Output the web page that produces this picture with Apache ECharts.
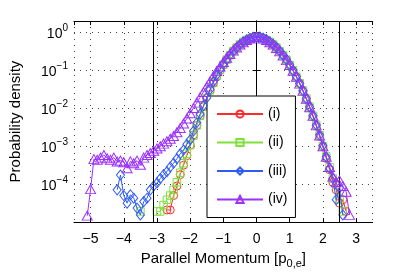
<!DOCTYPE html>
<html><head><meta charset="utf-8">
<script src="https://cdn.jsdelivr.net/npm/echarts@6/dist/echarts.min.js"></script>
<style>html,body{margin:0;padding:0;background:#fff}#c{width:415px;height:274px}</style>
</head><body><div id="c"></div>
<script>
const seriesNames = ['(i)', '(ii)', '(iii)', '(iv)'];
const xs = [-5.1,-5.0,-4.9,-4.8,-4.7,-4.6,-4.5,-4.4,-4.3,-4.2,-4.1,-4.0,-3.9,-3.8,-3.7,-3.6,-3.5,-3.4,-3.3,-3.2,-3.1,-3.0,-2.9,-2.8,-2.7,-2.6,-2.5,-2.4,-2.3,-2.2,-2.1,-2.0,-1.9,-1.8,-1.7,-1.6,-1.5,-1.4,-1.3,-1.2,-1.1,-1.0,-0.9,-0.8,-0.7,-0.6,-0.5,-0.4,-0.3,-0.2,-0.1,0.0,0.1,0.2,0.3,0.4,0.5,0.6,0.7,0.8,0.9,1.0,1.1,1.2,1.3,1.4,1.5,1.6,1.7,1.8,1.9,2.0,2.1,2.2,2.3,2.4,2.5,2.6,2.7,2.8];
const densI = [null,null,null,null,null,null,null,null,null,null,null,null,null,null,null,null,null,null,null,null,null,null,null,null,
  2.09e-5,2.09e-5,5.01e-5,8.91e-5,1.78e-4,3.16e-4,5.62e-4,1.07e-3,2.0e-3,3.55e-3,6.31e-3,1.10e-2,1.82e-2,2.95e-2,4.57e-2,6.92e-2,0.100,0.138,0.191,0.251,0.324,0.398,0.479,0.562,0.631,0.692,0.741,
  0.759,0.741,0.708,0.631,0.562,0.479,0.398,0.324,0.251,0.191,0.138,0.0977,0.0676,0.0447,0.0282,0.0174,0.0105,6.03e-3,3.39e-3,1.82e-3,9.55e-4,4.79e-4,2.40e-4,1.12e-4,7.08e-5,3.16e-5,3.89e-5,1.91e-5,null];
const densII = [null,null,null,null,null,null,null,null,null,null,null,null,null,null,null,null,
  1.91e-5,null,null,null,null,
  1.91e-5,1.91e-5,2.82e-5,3.89e-5,5.01e-5,7.08e-5,1.12e-4,2.0e-4,3.55e-4,6.31e-4,1.07e-3,1.91e-3,3.55e-3,6.31e-3,1.12e-2,1.86e-2,3.02e-2,4.68e-2,7.08e-2,0.102,0.141,0.191,0.251,0.324,0.398,0.479,0.562,0.631,0.692,0.741,
  0.759,0.741,0.692,0.631,0.562,0.479,0.398,0.316,0.251,0.191,0.138,0.100,0.0676,0.0457,0.0295,0.0182,0.0110,6.31e-3,3.63e-3,1.95e-3,1.0e-3,5.37e-4,2.82e-4,1.41e-4,9.55e-5,3.98e-5,1.91e-5,null,null];
const densIII = [null,null,null,null,null,null,null,null,null,
  7.08e-5,1.74e-4,5.01e-5,3.16e-5,5.25e-5,4.27e-5,2.34e-5,1.55e-5,3.47e-5,4.27e-5,7.08e-5,8.91e-5,1.07e-4,1.41e-4,1.78e-4,2.14e-4,2.82e-4,3.55e-4,4.68e-4,6.31e-4,7.94e-4,1.12e-3,1.48e-3,2.51e-3,4.17e-3,7.08e-3,0.0117,0.0191,0.0316,0.0501,0.0759,0.107,0.148,0.195,0.257,0.324,0.398,0.479,0.562,0.631,0.692,0.741,
  0.759,0.759,0.708,0.646,0.562,0.490,0.407,0.324,0.251,0.195,0.141,0.100,0.0692,0.0457,0.0295,0.0182,0.0110,6.46e-3,3.63e-3,2.0e-3,1.05e-3,5.25e-4,2.63e-4,1.41e-4,3.89e-5,7.94e-5,1.55e-5,null,null];
const densIV = [1.48e-5,7.41e-5,4.57e-4,4.37e-4,5.01e-4,5.89e-4,4.79e-4,4.37e-4,5.01e-4,3.98e-4,4.17e-4,3.80e-4,2.63e-4,3.98e-4,3.55e-4,4.17e-4,3.24e-4,5.01e-4,5.89e-4,6.61e-4,7.59e-4,8.71e-4,1.0e-3,1.17e-3,1.35e-3,1.58e-3,1.86e-3,2.34e-3,3.02e-3,3.98e-3,5.37e-3,7.41e-3,1.02e-2,1.41e-2,1.95e-2,2.69e-2,3.72e-2,5.13e-2,7.08e-2,9.55e-2,0.126,0.166,0.214,0.269,0.331,0.398,0.479,0.550,0.631,0.692,0.741,
  0.759,0.741,0.692,0.631,0.550,0.479,0.389,0.316,0.245,0.186,0.138,0.0977,0.0676,0.0447,0.0288,0.0178,0.0107,6.31e-3,3.55e-3,1.91e-3,1.0e-3,5.25e-4,2.82e-4,1.58e-4,1.12e-4,1.26e-4,8.91e-5,6.31e-5,1.55e-5];
const cutoffs = [-3.1, 2.5];
const seriesColors = ['#ff2a2a', '#7fe03c', '#2f5cf5', '#9b30ff'];

const FONT = '"Liberation Sans", Arial, Helvetica, sans-serif';
const allDens = [densI, densII, densIII, densIV];
const symbols = ['circle', 'rect', 'diamond', 'triangle'];
const symSizes = [8, 7.5, [8, 10], [10, 9]];

function fmtX(v) { return v < 0 ? '\u2212' + Math.abs(v) : String(v); }
function fmtY(v) {
  const e = Math.round(Math.log10(v));
  return '{b|10}{s|' + (e < 0 ? '\u2212' + (-e) : e) + '}';
}
const gridLine = { show: true, lineStyle: { color: '#444', width: 1, type: [1, 5] } };
const axLine = { show: true, lineStyle: { color: '#000', width: 1 } };
const tick = { show: true, inside: true, length: 4, lineStyle: { color: '#000', width: 1 } };

const series = allDens.map((arr, k) => ({
  name: seriesNames[k],
  type: 'line',
  data: xs.map((x, i) => [x, arr[i] == null ? '-' : arr[i]]),
  symbol: symbols[k],
  symbolSize: symSizes[k],
  showAllSymbol: true,
  color: seriesColors[k],
  lineStyle: { color: seriesColors[k], width: 1 },
  itemStyle: { color: 'rgba(255,255,255,0)', borderColor: seriesColors[k], borderWidth: 1 },
  emphasis: { disabled: true },
  z: 2 + k
}));
series[0].markLine = {
  silent: true, symbol: ['none', 'none'], label: { show: false },
  lineStyle: { color: '#000', width: 1, type: 'solid' },
  data: cutoffs.map(v => ({ xAxis: v }))
};

const chart = echarts.init(document.getElementById('c'), null, { renderer: 'canvas', width: 415, height: 274 });
chart.setOption({
  animation: false,
  backgroundColor: '#fff',
  grid: { left: 66.7, top: 21, right: 42.3, bottom: 51.7 },
  xAxis: [{
    type: 'value', min: -5.5, max: 3.5, splitNumber: 9, position: 'bottom',
    axisLine: axLine, axisTick: tick, splitLine: gridLine,
    axisLabel: { formatter: fmtX, showMinLabel: false, showMaxLabel: false, color: '#000', fontSize: 14, fontFamily: FONT, margin: 10 },
    name: '{m|Parallel Momentum [p}{sub|0,e}{m|]}', nameLocation: 'middle', nameGap: 25,
    nameTextStyle: { color: '#000', fontFamily: FONT, rich: {
      m: { fontSize: 15, fontFamily: FONT, color: '#000', verticalAlign: 'bottom', padding: [0, 0, 3, 0] },
      sub: { fontSize: 11, fontFamily: FONT, color: '#000', verticalAlign: 'bottom' } } }
  }, {
    type: 'value', min: -5.5, max: 3.5, splitNumber: 9, position: 'top',
    axisLine: axLine, axisTick: tick, splitLine: { show: false }, axisLabel: { show: false }
  }],
  yAxis: [{
    type: 'log', logBase: 10, min: 1e-5, max: 2, position: 'left',
    axisLine: axLine, axisTick: tick, splitLine: gridLine,
    axisLabel: { formatter: fmtY, showMinLabel: false, showMaxLabel: false, margin: 6, rich: {
      b: { fontSize: 14, fontFamily: FONT, color: '#000', verticalAlign: 'bottom' },
      s: { fontSize: 10, fontFamily: FONT, color: '#000', verticalAlign: 'bottom', padding: [0, 0, 8, 0] } } },
    name: 'Probability density', nameLocation: 'middle', nameGap: 51,
    nameTextStyle: { color: '#000', fontSize: 15, fontFamily: FONT }
  }, {
    type: 'log', logBase: 10, min: 1e-5, max: 2, position: 'right',
    axisLine: axLine, axisTick: tick, splitLine: { show: false }, axisLabel: { show: false }
  }],
  legend: {
    data: seriesNames, orient: 'vertical', left: 207, top: 96,
    padding: [11, 8, 11, 9], itemWidth: 46, itemHeight: 9, itemGap: 14.5,
    backgroundColor: '#fff', borderColor: '#000', borderWidth: 1, selectedMode: false,
    textStyle: { fontSize: 14, lineHeight: 14, fontFamily: FONT, color: '#000' }
  },
  series: series
});
</script>
</body></html>
